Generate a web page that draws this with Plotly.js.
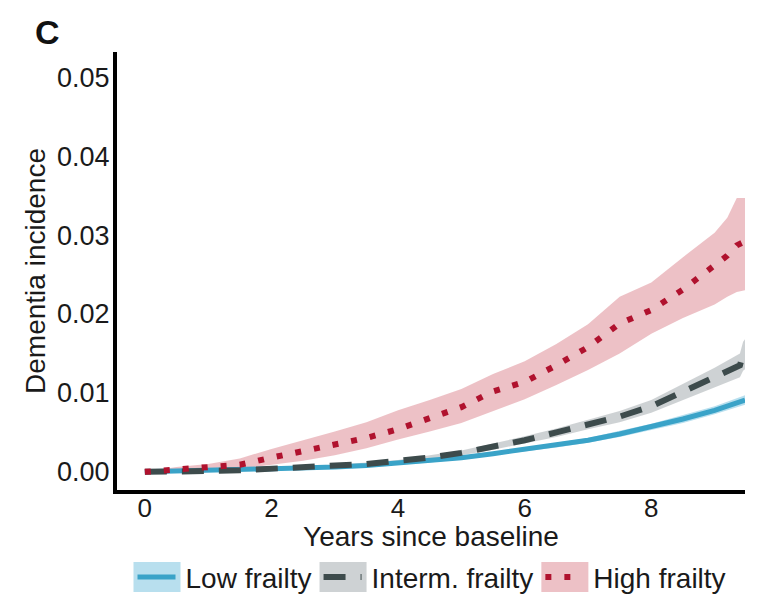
<!DOCTYPE html>
<html>
<head>
<meta charset="utf-8">
<script src="https://cdn.plot.ly/plotly-3.0.1.min.js"></script>
<style>html,body{margin:0;padding:0;background:#fff;}#chart{width:761px;height:600px;}</style>
</head>
<body>
<div id="chart"></div>
<script>
// ---- data ----
const seriesNames = ["Low frailty", "Interm. frailty", "High frailty"];

const lowTime  = [0,0.5,1,1.5,2,2.5,3,3.5,4,4.5,5,5.5,6,6.5,7,7.5,8,8.5,9,9.48];
const lowEst   = [0,0.0001,0.0001,0.0002,0.0004,0.0005,0.0006,0.0008,0.0011,0.0014,0.0018,0.0023,0.0029,0.0034,0.0040,0.0048,0.0057,0.0067,0.0078,0.0091];
const lowLo    = [0,0,0.0001,0.0001,0.0003,0.0004,0.0005,0.0007,0.0009,0.0012,0.0016,0.0021,0.0026,0.0031,0.0037,0.0044,0.0053,0.0062,0.0073,0.0085];
const lowHi    = [0,0.0001,0.0002,0.0003,0.0005,0.0006,0.0007,0.0009,0.0012,0.0016,0.0020,0.0025,0.0031,0.0037,0.0043,0.0052,0.0061,0.0072,0.0083,0.0097];

const midTime  = [0,0.5,1,1.5,2,2.5,3,3.5,4,4.5,5,5.5,6,6.5,7,7.5,8,8.5,9,9.4,9.45,9.48];
const midEst   = [0,0,0.0001,0.0002,0.0004,0.0006,0.0008,0.0010,0.0014,0.0018,0.0024,0.0032,0.0040,0.0050,0.0060,0.0070,0.0083,0.0101,0.0120,0.0135,0.0150,0.0155];
const midLo    = [0,0,0.0001,0.0001,0.0003,0.0005,0.0007,0.0009,0.0011,0.0015,0.0021,0.0028,0.0036,0.0044,0.0054,0.0063,0.0075,0.0091,0.0108,0.0120,0.0128,0.0130];
const midHi    = [0,0.0001,0.0002,0.0003,0.0005,0.0007,0.0009,0.0012,0.0015,0.0021,0.0027,0.0036,0.0045,0.0055,0.0066,0.0077,0.0091,0.0111,0.0132,0.0150,0.0165,0.0168];

const highTime = [0,0.5,1,1.5,2,2.5,3,3.5,4,4.5,5,5.5,6,6.5,7,7.5,8,8.5,9,9.2,9.35,9.48];
const highEst  = [0,0.0003,0.0005,0.0009,0.0018,0.0026,0.0034,0.0043,0.0054,0.0067,0.0082,0.0102,0.0114,0.0135,0.0158,0.0188,0.0205,0.0231,0.0261,0.0274,0.0287,0.0292];
const highLo   = [0,0.0001,0.0002,0.0004,0.0009,0.0014,0.0021,0.0030,0.0041,0.0051,0.0062,0.0077,0.0092,0.0110,0.0129,0.0150,0.0175,0.0195,0.0212,0.0222,0.0228,0.0230];
const highHi   = [0,0.0006,0.0010,0.0017,0.0029,0.0040,0.0051,0.0063,0.0078,0.0091,0.0105,0.0124,0.0140,0.0162,0.0187,0.0222,0.0240,0.0272,0.0303,0.0322,0.0347,0.0347];

const xTicks = [0,2,4,6,8];
const yTicks = [0,0.01,0.02,0.03,0.04,0.05];
const yTickText = ["0.00","0.01","0.02","0.03","0.04","0.05"];

// ---- styles ----
const colLine = ["#3aa3c8", "#3d4b4c", "#b0122e"];
const colBand = ["rgba(160,212,232,0.75)", "rgba(190,195,198,0.75)", "rgba(228,160,168,0.65)"];
const dashes  = ["solid", "22px,15px", "6px,13px"];
const widths  = [5, 6, 6];

function band(t, lo, hi, i) {
  return [
    {x: t, y: lo, mode: "lines", line: {width: 0, color: colBand[i]}, showlegend: false, hoverinfo: "skip"},
    {x: t, y: hi, mode: "lines", line: {width: 0, color: colBand[i]}, fill: "tonexty", fillcolor: colBand[i], showlegend: false, hoverinfo: "skip"}
  ];
}
function line(t, est, i) {
  return {x: t, y: est, mode: "lines", line: {color: colLine[i], width: widths[i], dash: dashes[i]}, showlegend: false, name: seriesNames[i]};
}
function legendEntry(i) {
  return {x: [null], y: [null], mode: "lines", name: seriesNames[i], fill: "toself", fillcolor: colBand[i],
          line: {color: colLine[i], width: widths[i], dash: dashes[i]}, showlegend: true};
}

const data = [
  ...band(highTime, highLo, highHi, 2),
  ...band(midTime, midLo, midHi, 1),
  ...band(lowTime, lowLo, lowHi, 0),
  line(lowTime, lowEst, 0),
  line(midTime, midEst, 1),
  line(highTime, highEst, 2),
  legendEntry(0), legendEntry(1), legendEntry(2)
];

const font = {family: "Liberation Sans, Arial, sans-serif", size: 27, color: "#1a1a1a"};

const layout = {
  width: 761, height: 600,
  margin: {l: 117, r: 16, t: 52, b: 110},
  paper_bgcolor: "#fff", plot_bgcolor: "#fff",
  font: font,
  showlegend: true,
  legend: {orientation: "h", traceorder: "normal", x: 0.5, xanchor: "center", yref: "container", y: 0.038, yanchor: "middle",
           font: {family: font.family, size: 28, color: "#1a1a1a"}, itemwidth: 45, tracegroupgap: 0,
           itemclick: false, itemdoubleclick: false},
  xaxis: {range: [-0.44, 9.48], tickvals: xTicks, ticktext: xTicks.map(String), showgrid: false, zeroline: false,
          showline: true, linewidth: 4, linecolor: "#000", ticks: "", tickfont: {size: 26}, ticklabelstandoff: -8,
          title: {text: "Years since baseline", font: {size: 28}, standoff: 0}},
  yaxis: {range: [-0.0023, 0.0532], tickvals: yTicks, ticktext: yTickText, showgrid: false, zeroline: false,
          showline: true, linewidth: 4, linecolor: "#000", ticks: "", tickfont: {size: 27}, ticklabelstandoff: -2,
          title: {text: "Dementia incidence", font: {size: 28}, standoff: 4}},
  annotations: [{text: "<b>C</b>", xref: "paper", yref: "paper", x: -0.111, y: 1.046, xanchor: "center", yanchor: "middle",
                 showarrow: false, font: {size: 34, color: "#111", family: font.family}}]
};

Plotly.newPlot("chart", data, layout, {displayModeBar: false, staticPlot: true}).then(function () {
  document.querySelectorAll(".legend .traces").forEach(function (g) {
    g.querySelectorAll(".legendfill path").forEach(function (p) { p.setAttribute("d", "M3,-15h47v30h-47z"); });
    g.querySelectorAll(".legendlines path").forEach(function (p) { p.setAttribute("d", "M7,0h38"); });
  });
});
</script>
</body>
</html>
